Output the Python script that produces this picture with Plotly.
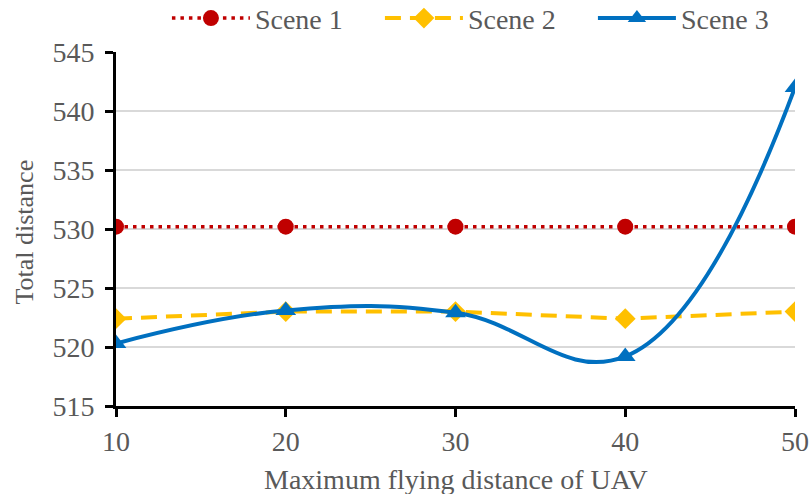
import plotly.graph_objects as go

x_vals = [10, 20, 30, 40, 50]
scene1 = [530.2, 530.2, 530.2, 530.2, 530.2]
scene2 = [522.4, 523.0, 523.0, 522.4, 523.0]
scene3 = [520.3, 523.1, 522.9, 519.2, 542.0]
y_ticks = [515, 520, 525, 530, 535, 540, 545]

FONT = "Liberation Serif, Times New Roman, serif"
GRAY = "#595959"

fig = go.Figure()
fig.add_trace(go.Scatter(
    x=x_vals, y=scene1, name="Scene 1", mode="lines+markers",
    line=dict(color="#C00000", width=3.5, dash="3.5px,5px"),
    marker=dict(symbol="circle", size=16, color="#C00000"),
))
fig.add_trace(go.Scatter(
    x=x_vals, y=scene2, name="Scene 2", mode="lines+markers",
    line=dict(color="#FFC000", width=4, dash="16px,9px"),
    marker=dict(symbol="diamond", size=16, color="#FFC000"),
))
fig.add_trace(go.Scatter(
    x=x_vals, y=scene3, name="Scene 3", mode="lines+markers",
    line=dict(color="#0070C0", width=4, shape="spline", smoothing=1.2),
    marker=dict(symbol="triangle-up", size=18, color="#0070C0"),
))

fig.update_layout(
    width=812, height=494,
    margin=dict(l=116, r=17, t=52, b=88, autoexpand=False),
    paper_bgcolor="white", plot_bgcolor="white",
    font=dict(family=FONT, size=28, color=GRAY),
    legend=dict(orientation="h", x=0.075, xanchor="left", y=1.095, yanchor="middle",
                font=dict(family=FONT, size=28, color=GRAY),
                itemwidth=78, entrywidth=120, entrywidthmode="pixels",
                bgcolor="rgba(0,0,0,0)", tracegroupgap=0),
    xaxis=dict(
        range=[10, 50], tickvals=x_vals, showgrid=False, automargin=False,
        showline=True, linecolor="black", linewidth=3, ticklabeloverflow="allow",
        ticks="outside", ticklen=8, tickwidth=3, tickcolor="black",
        tickfont=dict(size=28, color=GRAY), zeroline=False,
    ),
    yaxis=dict(
        range=[515, 545], tickvals=y_ticks, showgrid=True, gridcolor="#D9D9D9", gridwidth=2,
        showline=True, linecolor="black", linewidth=3, automargin=False,
        ticks="outside", ticklen=8, tickwidth=3, tickcolor="black", ticklabelstandoff=5,
        tickfont=dict(size=28, color=GRAY), zeroline=False,
    ),
    annotations=[
        dict(text="Maximum flying distance of UAV", xref="paper", yref="paper",
             x=0.5, y=(406 - 479) / 354, xanchor="center", yanchor="middle",
             showarrow=False, font=dict(family=FONT, size=28, color=GRAY)),
        dict(text="Total distance", xref="paper", yref="paper", textangle=-90,
             x=(25 - 116) / 679, y=0.49, xanchor="center", yanchor="middle",
             showarrow=False, font=dict(family=FONT, size=26, color=GRAY)),
    ],
)
fig.write_html(
    "out.html",
    config={"displayModeBar": False},
    post_script="document.body.style.margin='0';document.body.style.overflow='hidden';",
)
